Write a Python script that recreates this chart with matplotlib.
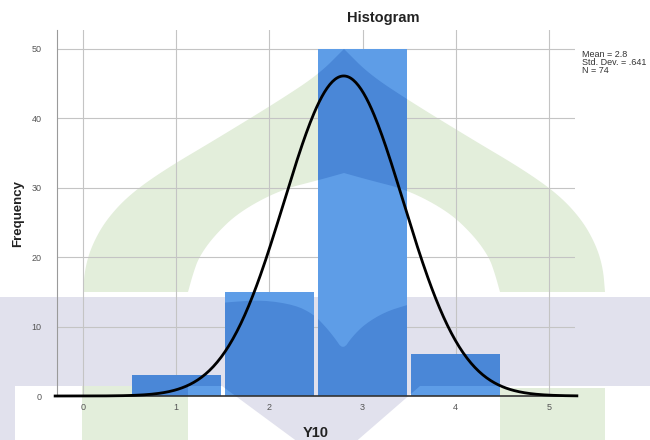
import numpy as np
import matplotlib
matplotlib.use("Agg")
import matplotlib.pyplot as plt
from matplotlib.patches import Polygon, Rectangle
from matplotlib.transforms import Affine2D

# Y10 responses and their counts
values = [1, 2, 3, 4]
counts = [3, 15, 50, 6]
x_ticks = [0, 1, 2, 3, 4, 5]
y_ticks = [0, 10, 20, 30, 40, 50]

plt.rcParams['font.family'] = ['Liberation Sans', 'DejaVu Sans']

light_blue = '#5e9de7'
dark_blue = '#4a87d7'
wm_green = '#e3eedb'
wm_gray = '#e1e1ed'

# summary stats for the legend and the normal curve
n = sum(counts)
vals = np.repeat(values, counts)
mean = vals.mean()
sd = vals.std(ddof=1)


def chaikin(pts, rounds=3):
    # corner-cutting smoothing, keeps the end points
    pts = np.asarray(pts, float)
    for _ in range(rounds):
        q = 0.75 * pts[:-1] + 0.25 * pts[1:]
        r = 0.25 * pts[:-1] + 0.75 * pts[1:]
        mid = np.empty((2 * len(q), 2))
        mid[0::2] = q
        mid[1::2] = r
        pts = np.vstack([pts[:1], mid, pts[-1:]])
    return pts


fig = plt.figure(figsize=(6.5, 4.4), dpi=100)
ax = fig.add_axes([57 / 650, 44 / 440, 518 / 650, 366 / 440])
ax.set_facecolor('none')

# background logo, laid out in pixel units (y down)
px = Affine2D().scale(1 / 650, -1 / 440).translate(0, 1) + fig.transFigure
cx = 344
outer = [(0, 49), (25, 74), (64, 100), (126, 138), (180, 170), (215, 195),
         (238, 220), (252, 245), (259, 268), (261, 292)]
inner = [(0, 173), (25, 180), (64, 190), (105, 212), (130, 236), (145, 257),
         (151, 274), (156, 292)]
outer_s = chaikin([(cx - d, y) for d, y in outer[::-1]])
outer_r = chaikin([(cx + d, y) for d, y in outer])
inner_r = chaikin([(cx + d, y) for d, y in inner[::-1]])
inner_l = chaikin([(cx - d, y) for d, y in inner])
arch = np.vstack([outer_s, outer_r[1:], inner_r, inner_l[1:]])

# lighter page area inside the band, two humps meeting at the spine
page_edge = [(490, 300), (460, 299), (425, 300), (407, 305), (385, 312),
             (365, 324), (352, 337), (343, 350), (334, 337), (324, 325),
             (313, 314), (295, 305), (263, 300), (230, 302), (200, 305)]
page_pts = np.vstack([[(200, 285), (490, 285)], chaikin(page_edge, 2)])


def logo_shapes():
    return [
        (Polygon(arch, closed=True), 'g'),
        (Rectangle((82, 386), 106, 60), 'g'),
        (Rectangle((500, 388), 105, 60), 'g'),
        (Rectangle((0, 297), 650, 89), 'k'),
        (Rectangle((0, 380), 15, 70), 'k'),
        (Polygon([(222, 386), (420, 386), (352, 445), (302, 445)], closed=True), 'k'),
    ]


for shape, kind in logo_shapes():
    shape.set_transform(px)
    shape.set_facecolor(wm_green if kind == 'g' else wm_gray)
    shape.set_edgecolor('none')
    shape.set_zorder(-1)
    fig.add_artist(shape)

# grid
ax.set_axisbelow(True)
ax.grid(True, color='#c4c4c4', linewidth=0.8)

bars = ax.bar(values, counts, width=0.95, color=light_blue, edgecolor='none', zorder=2)

# logo seen through the bars
for bar in bars:
    for shape, kind in logo_shapes():
        shape.set_transform(px)
        shape.set_facecolor(dark_blue)
        shape.set_edgecolor('none')
        shape.set_zorder(2.1)
        ax.add_artist(shape)
        shape.set_clip_path(bar)
    pg = Polygon(page_pts, closed=True, transform=px, facecolor=light_blue,
                 edgecolor='none', zorder=2.2)
    ax.add_artist(pg)
    pg.set_clip_path(bar)

# normal curve scaled to the counts
xs = np.linspace(-0.3, 5.3, 400)
ys = n * 1.0 * np.exp(-0.5 * ((xs - mean) / sd) ** 2) / (sd * np.sqrt(2 * np.pi))
ax.plot(xs, ys, color='black', linewidth=2.0, zorder=3, clip_on=False)

ax.set_xlim(-0.28, 5.28)
ax.set_ylim(0, 52.7)
ax.set_xticks(x_ticks)
ax.set_yticks(y_ticks)
ax.tick_params(length=0, labelsize=6.5, labelcolor='#555555')
ax.tick_params(axis='x', pad=5)
ax.tick_params(axis='y', pad=11)
for s in ['top', 'right']:
    ax.spines[s].set_visible(False)
ax.spines['left'].set_color('#9a9a9a')
ax.spines['left'].set_linewidth(0.8)
ax.spines['bottom'].set_color('#333333')
ax.spines['bottom'].set_linewidth(1.2)

ax.set_xlabel('Y10', fontsize=10.5, fontweight='bold', color='#222222')
ax.xaxis.set_label_coords(0.5, -0.083)
ax.set_ylabel('Frequency', fontsize=9.5, fontweight='bold', color='#222222')
ax.yaxis.set_label_coords(-0.064, 0.5)
fig.text(383 / 650, 1 - 18 / 440, 'Histogram', ha='center', va='center',
         fontsize=10.5, fontweight='bold', color='#222222')

stats = f"Mean = {mean:.1f}\nStd. Dev. = {sd:.3f}".replace('0.', '.') + f"\nN = {n}"
fig.text(582 / 650, 1 - 50 / 440, stats, ha='left', va='top', fontsize=6.5,
         color='#333333', linespacing=0.85)

plt.savefig('out.png', dpi=100)
